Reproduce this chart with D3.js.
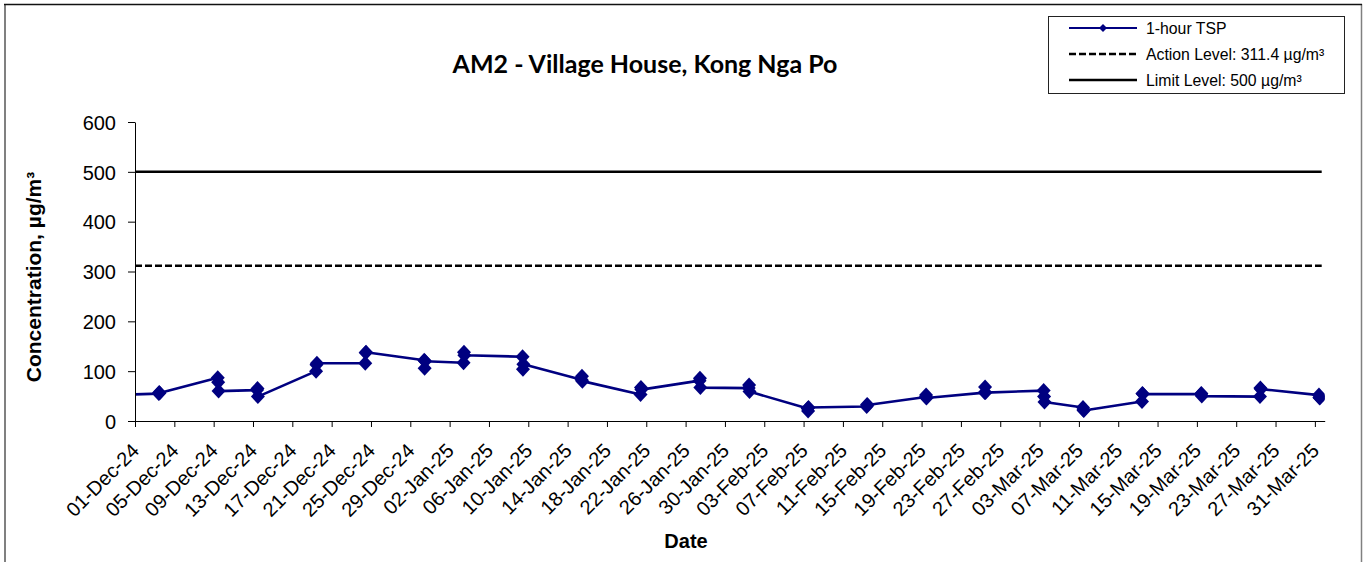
<!DOCTYPE html>
<meta charset="utf-8">
<title>AM2 - Village House, Kong Nga Po</title>
<style>
body {
  margin: 0;
  background: #fff;
}
svg {
  display: block;
  font-family: 'Liberation Sans', Arial, sans-serif;
}
.axis .domain,
.axis .tick line {
  stroke: #000;
}
.axis .tick text {
  fill: #000;
  font-size: 20px;
}
</style>
<body>
<svg width="1367" height="562"></svg>
<script src="https://d3js.org/d3.v7.min.js"></script>
<script>
// sampling days (three 1-hour readings each day); first one sits before the axis start
var sampleDates = ["2024-11-27", "2024-12-03", "2024-12-09", "2024-12-13", "2024-12-19", "2024-12-24",
  "2024-12-30", "2025-01-03", "2025-01-09", "2025-01-15", "2025-01-21", "2025-01-27",
  "2025-02-01", "2025-02-07", "2025-02-13", "2025-02-19", "2025-02-25", "2025-03-03",
  "2025-03-07", "2025-03-13", "2025-03-19", "2025-03-25", "2025-03-31"];
var readingHours = [10, 11, 12];
var tsp1 = [50, 55, 87, 62, 100, 116, 122, 117, 129, 83, 53, 81, 66, 25, 29, 48, 57, 61, 27, 39, 54, 49, 52];
var tsp2 = [52, 57, 78, 65, 113, 137, 106, 138, 104, 90, 67, 86, 72, 20, 33, 52, 68, 49, 22, 55, 55, 66, 47];
var tsp3 = [51, 56, 60, 49, 116, 138, 120, 132, 114, 80, 63, 67, 59, 27, 32, 46, 57, 38, 21, 54, 50, 64, 46];

var actionLevel = 311.4;
var limitLevel = 500;
var yTicks = [0, 100, 200, 300, 400, 500, 600];
var axisStart = "2024-12-01", axisEnd = "2025-04-01", tickStepDays = 4;

var legendLabels = ["1-hour TSP", "Action Level: 311.4 µg/m³", "Limit Level: 500 µg/m³"];

var parse = d3.timeParse("%Y-%m-%d");

// flatten into one point per reading, in time order
var points = [];
sampleDates.forEach(function(d, i) {
  [tsp1[i], tsp2[i], tsp3[i]].forEach(function(v, k) {
    var t = d3.timeHour.offset(parse(d), readingHours[k]);
    points.push({date: t, value: v});
  });
});

var svg = d3.select("svg"),
    margin = {top: 122, right: 45, bottom: 141, left: 135},
    width = +svg.attr("width") - margin.left - margin.right,
    height = +svg.attr("height") - margin.top - margin.bottom;

// chart area border
svg.append("line").attr("x1", 5).attr("x2", 5).attr("y1", 4).attr("y2", 562)
  .attr("stroke", "#808080").attr("stroke-width", 2);
svg.append("line").attr("x1", 1361.5).attr("x2", 1361.5).attr("y1", 4).attr("y2", 562)
  .attr("stroke", "#808080").attr("stroke-width", 1.5);
svg.append("line").attr("x1", 4).attr("x2", 1362).attr("y1", 4.5).attr("y2", 4.5)
  .attr("stroke", "#111").attr("stroke-width", 1.5);

var g = svg.append("g").attr("transform", "translate(" + margin.left + "," + margin.top + ")");

var x = d3.scaleTime()
    .domain([parse(axisStart), parse(axisEnd)])
    .range([0, width + 2.7]);

var y = d3.scaleLinear()
    .domain([0, 600])
    .range([299, 0]);

var tickDates = d3.range(0, 121, tickStepDays).map(function(k) {
  return d3.timeDay.offset(parse(axisStart), k);
});

g.append("clipPath").attr("id", "plot-clip")
  .append("rect").attr("x", 0).attr("y", -5).attr("width", x.range()[1]).attr("height", 310);

// level lines
g.append("line")
  .attr("x1", 0).attr("x2", x.range()[1] - 3)
  .attr("y1", y(limitLevel)).attr("y2", y(limitLevel))
  .attr("stroke", "#000").attr("stroke-width", 2.5);

g.append("line")
  .attr("x1", 0).attr("x2", x.range()[1] - 3)
  .attr("y1", y(actionLevel)).attr("y2", y(actionLevel))
  .attr("stroke", "#000").attr("stroke-width", 2.5)
  .attr("stroke-dasharray", "7,3");

// series
var line = d3.line()
    .x(function(d) { return x(d.date); })
    .y(function(d) { return y(d.value); });

var series = g.append("g").attr("clip-path", "url(#plot-clip)");

series.append("path")
  .datum(points)
  .attr("fill", "none")
  .attr("stroke", "#000080")
  .attr("stroke-width", 2.6)
  .attr("stroke-linejoin", "round")
  .attr("d", line);

var diamond = "M0,-7.5L7,0L0,7.5L-7,0Z";
series.selectAll(".marker")
  .data(points.filter(function(d) { return d.date >= x.domain()[0]; }))
  .enter().append("path")
  .attr("class", "marker")
  .attr("d", diamond)
  .attr("fill", "#000080")
  .attr("transform", function(d) { return "translate(" + x(d.date) + "," + y(d.value) + ")"; });

// axes
g.append("g")
  .attr("class", "axis")
  .call(d3.axisLeft(y).tickValues(yTicks).tickSize(7).tickSizeOuter(0).tickPadding(12))
  .call(function(a) { a.selectAll("text").attr("dy", "0.36em"); });

var xAxis = g.append("g")
  .attr("class", "axis")
  .attr("transform", "translate(0," + height + ")")
  .call(d3.axisBottom(x).tickValues(tickDates).tickSize(6).tickSizeOuter(0)
    .tickFormat(d3.timeFormat("%d-%b-%y")));

xAxis.selectAll(".tick text")
  .attr("text-anchor", "end")
  .attr("dy", "0.35em")
  .attr("y", 0)
  .attr("transform", "translate(0,26) rotate(-45)");

// titles
svg.append("text")
  .attr("x", 645)
  .attr("y", 73)
  .attr("text-anchor", "middle")
  .attr("font-family", "Lato, 'Open Sans', sans-serif")
  .attr("font-weight", "bold")
  .attr("font-size", "25px")
  .text("AM2 - Village House, Kong Nga Po");

svg.append("text")
  .attr("transform", "translate(41,277) rotate(-90)")
  .attr("text-anchor", "middle")
  .attr("font-weight", "bold")
  .attr("font-size", "21px")
  .text("Concentration, µg/m³");

svg.append("text")
  .attr("x", 686)
  .attr("y", 548)
  .attr("text-anchor", "middle")
  .attr("font-weight", "bold")
  .attr("font-size", "20px")
  .text("Date");

// legend
var legend = svg.append("g").attr("class", "legend");
legend.append("rect")
  .attr("x", 1048.5).attr("y", 16.5).attr("width", 296).attr("height", 77)
  .attr("fill", "#fff").attr("stroke", "#222").attr("stroke-width", 1);

var rowY = [28, 54, 80];
legendLabels.forEach(function(label, i) {
  var row = legend.append("g").attr("transform", "translate(0," + rowY[i] + ")");
  var ln = row.append("line")
    .attr("x1", 1069).attr("x2", 1137)
    .attr("stroke", i === 0 ? "#000080" : "#000")
    .attr("stroke-width", i === 0 ? 2.2 : 2.5);
  if (i === 1) ln.attr("stroke-dasharray", "7,3");
  if (i === 0) {
    row.append("path").attr("d", "M0,-4L4,0L0,4L-4,0Z")
      .attr("transform", "translate(1103,0)").attr("fill", "#000080");
  }
  row.append("text")
    .attr("x", 1146).attr("y", 0).attr("dy", "0.35em")
    .attr("font-size", "15.8px")
    .text(label);
});
</script>
</body>
